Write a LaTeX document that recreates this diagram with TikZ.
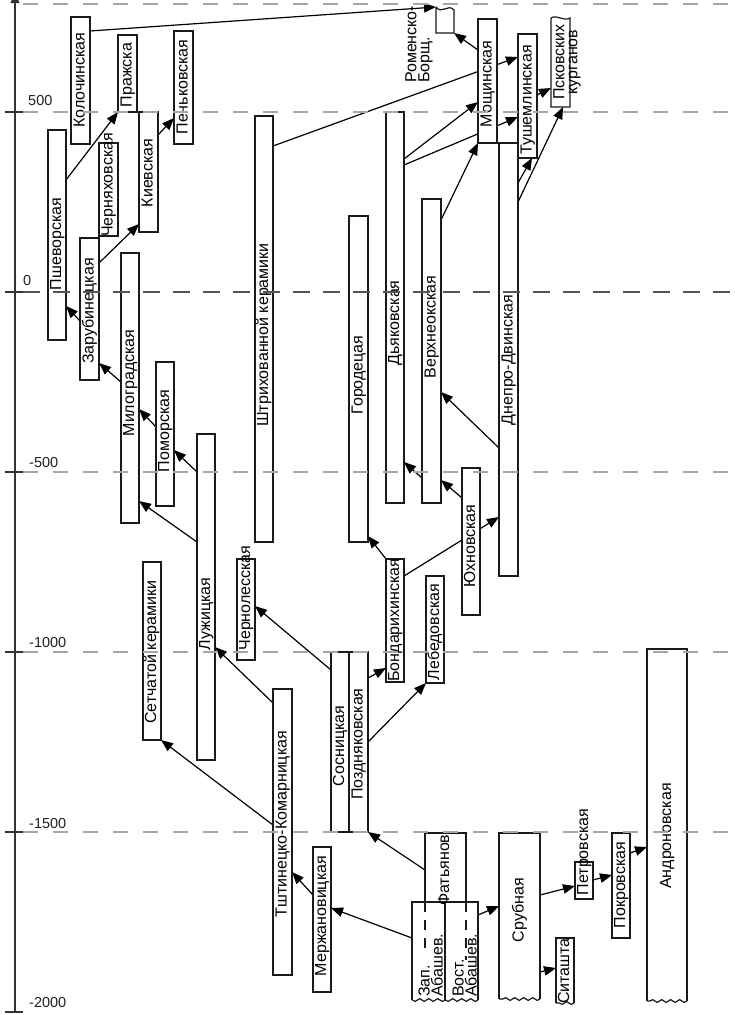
\documentclass[tikz,border=0pt]{standalone}
\usepackage{fontspec}
\setmainfont{Liberation Sans}
\usetikzlibrary{arrows.meta,decorations.pathmorphing}
\pgfdeclarelayer{bg}
\pgfdeclarelayer{fg}
\pgfsetlayers{bg,main,fg}
\definecolor{boxc}{HTML}{1A1A1A}
\definecolor{gridc}{HTML}{A6A6A6}
\definecolor{zgridc}{HTML}{555555}
\definecolor{axc}{HTML}{333333}
\definecolor{numc}{HTML}{222222}
\newcommand{\bx}[6]{\node[#6, minimum width={(#4-#2)*1pt}, minimum height={(#5-#3)*1pt}] (#1) at ({(#2+#4)/2},{(#3+#5)/2}) {};}
\newcommand{\lb}[4]{\node[lbl] (#1) at (#2,#3) {#4};}
\tikzset{
  box/.style={draw=boxc, line width=1.2pt, fill=white, inner sep=0pt, outer sep=0pt},
  wbox/.style={fill=white, inner sep=0pt, outer sep=0pt},
  edge/.style={draw=boxc, line width=1.2pt},
  wave/.style={edge, decorate, decoration={snake, amplitude=1.4pt, segment length=9pt}},
  lbl/.style={rotate=90, font=\fontsize{16}{13}\selectfont, inner sep=0pt, text height=11.5pt, text depth=3.4pt},
  ml/.style={rotate=90, font=\fontsize{16}{13}\selectfont, inner sep=0pt},
  conn/.style={draw=black, line width=1.2pt},
  arr/.style={conn, -{Triangle[length=12pt,width=9.5pt]}},
  gridln/.style={draw=gridc, line width=1.3pt, dash pattern=on 15pt off 15pt},
  zgridln/.style={draw=zgridc, line width=1.4pt, dash pattern=on 17pt off 13pt},
  axis/.style={draw=axc, line width=1.4pt},
  num/.style={font=\fontsize{14.5}{14}\selectfont, inner sep=0pt, anchor=base west, text=numc}
}
\begin{document}
\begin{tikzpicture}[x=1pt,y=-1pt]
\useasboundingbox (0,0) rectangle (734,1015);
% axis
\draw[axis, -{Triangle[length=10pt,width=9pt]}] (15,1012) -- (15,-7);
\foreach \yy in {112,292,472,652,832,1012} \draw[axis] (5,\yy) -- (23,\yy);
\node[num] (n500) at (28,105) {500};
\node[num] (n0) at (23,285) {0};
\node[num] (nm500) at (29,467) {-500};
\node[num] (nm1000) at (29,647) {-1000};
\node[num] (nm1500) at (29,828) {-1500};
\node[num] (nm2000) at (29,1007) {-2000};
% boxes
\bx{kol}{71}{17}{90}{144}{box}
\bx{pra}{118}{35}{137}{112}{box}
\bx{pen}{174}{31}{193}{144}{box}
\bx{psh}{48}{130}{66}{340}{box}
\bx{cher}{99}{143}{118}{236}{box}
\bx{kie}{139}{112}{158}{232}{box}
\bx{zar}{80}{238}{99}{380}{box}
\bx{mil}{121}{253}{139}{523}{box}
\bx{pom}{156}{362}{174}{506}{box}
\bx{luz}{197}{434}{215}{760}{box}
\bx{set}{143}{562}{161}{740}{box}
\bx{che}{237}{559}{255}{660}{box}
\bx{shtr}{255}{116}{273}{542}{box}
\bx{gor}{349}{216}{368}{542}{box}
\bx{dya}{386}{112}{404}{503}{box}
\bx{ver}{422}{199}{441}{503}{box}
\bx{mos}{478}{19}{497}{143}{box}
\bx{rom}{436}{7}{454}{33}{wbox}
\bx{tus}{518}{34}{537}{158}{box}
\bx{psk}{551}{18}{570}{107}{wbox}
\bx{dne}{499}{143}{518}{576}{box}
\bx{yuh}{462}{468}{480}{615}{box}
\bx{bon}{386}{559}{404}{682}{box}
\bx{leb}{426}{576}{444}{683}{box}
\bx{tsh}{273}{689}{292}{975}{box}
\bx{sos}{331}{652}{349}{832}{box}
\bx{poz}{349}{652}{368}{832}{box}
\bx{mer}{313}{847}{331}{992}{box}
\bx{fat}{425}{833}{466}{902}{box}
\bx{zap}{412}{902}{445}{1000}{wbox}
\bx{vos}{445}{902}{478}{1000}{wbox}
\bx{srub}{499}{833}{540}{999}{wbox}
\bx{pet}{575}{862}{593}{899}{box}
\bx{pok}{612}{833}{630}{938}{box}
\bx{andr}{647}{649}{687}{1001}{wbox}
\bx{sit}{556}{938}{574}{1003}{wbox}
% wavy outlines
\draw[edge] (rom.north west) -- (rom.south west) -- (rom.south east) -- (454,10)
  .. controls (448,3) and (442,15) .. (rom.north west);
\draw[edge] (psk.north west) -- (psk.south west) -- (psk.south east) -- (psk.north east)
  .. controls (564,22) and (557,14) .. (psk.north west);
\foreach \n in {zap,vos,srub,andr,sit}{
  \draw[edge] (\n.south west) -- (\n.north west) -- (\n.north east) -- (\n.south east);
  \draw[wave] (\n.south east) -- (\n.south west);
}
\draw[edge, dash pattern=on 10pt off 8pt] (fat.south west) -- ++(0,46);
\draw[edge, dash pattern=on 10pt off 8pt] (fat.south east) -- ++(0,58);
% labels
\lb{kol-l}{80.5}{80}{Колочинская}
\lb{pra-l}{127.5}{75}{Пражска}
\lb{pen-l}{183.5}{87}{Пеньковская}
\lb{psh-l}{57}{244}{Пшеворская}
\lb{cher-l}{108.5}{185}{Черняховская}
\lb{kie-l}{148.5}{173}{Киевская}
\lb{zar-l}{89.5}{311}{Зарубинецкая}
\lb{mil-l}{130}{383}{Милоградская}
\lb{pom-l}{165}{431}{Поморская}
\lb{luz-l}{206}{614}{Лужицкая}
\lb{set-l}{152}{652}{Сетчатой керамики}
\lb{che-l}{246}{598}{Чернолесская}
\lb{shtr-l}{264}{335}{Штрихованной керамики}
\lb{gor-l}{358.5}{375}{Городецая}
\lb{dya-l}{395}{323}{Дьяковская}
\lb{ver-l}{431.5}{327}{Верхнеокская}
\lb{mos-l}{487.5}{84}{Мощинская}
\node[ml, anchor=south west, align=left] (rom-l) at (433,83) {Роменско-\\Борщ.};
\lb{tus-l}{527.5}{100}{Тушемлинская}
\node[ml, align=center] (psk-l) at (567,62) {Псковских\\курганов};
\lb{dne-l}{508.5}{360}{Днепро-Двинская}
\lb{yuh-l}{471}{546}{Юхновская}
\lb{bon-l}{395}{620}{Бондарихинская}
\lb{leb-l}{435}{632}{Лебедовская}
\lb{tsh-l}{282.5}{824}{Тштинецко-Комарницкая}
\lb{sos-l}{340}{746}{Сосницкая}
\lb{poz-l}{358.5}{744}{Поздняковская}
\lb{mer-l}{322}{916}{Мержановицкая}
\lb{fat-l}{445}{868}{Фатьянов.}
\node[ml, anchor=south west, align=left] (zap-l) at (443,997) {Зап.\\Абашев.};
\node[ml, anchor=south west, align=left] (vos-l) at (477,997) {Вост.\\Абашев.};
\lb{srub-l}{519.5}{910}{Срубная}
\lb{pet-l}{584}{852}{Петровская}
\lb{pok-l}{621}{885}{Покровская}
\lb{andr-l}{667}{836}{Андроновская}
\lb{sit-l}{565}{971}{Ситашта}
% connectors
\begin{pgfonlayer}{bg}
\fill[white] (0,0) rectangle (734,1015);
\draw[arr] (kol.east |- 0,31) -- (rom.north west);
\draw[arr] (psh.east |- 0,180) -- (pra.south west);
\draw[arr] (zar.east |- 0,263) -- (kie.west |- 0,224);
\draw[arr] (kie.east |- 0,135) -- (pen.west |- 0,118);
\draw[arr] (zar.west |- 0,321) -- (psh.east |- 0,306);
\draw[arr] (mil.west |- 0,382) -- (zar.east |- 0,363);
\draw[arr] (pom.west |- 0,427) -- (mil.east |- 0,409);
\draw[arr] (luz.west |- 0,472) -- (pom.east |- 0,450);
\draw[arr] (luz.west |- 0,542) -- (mil.east |- 0,501);
\draw[arr] (tsh.west |- 0,703) -- (luz.east |- 0,647);
\draw[arr] (tsh.west |- 0,825) -- (set.south east);
\draw[arr] (sos.west |- 0,670) -- (che.east |- 0,606);
\draw[arr] (poz.east |- 0,678) -- (bon.west |- 0,668);
\draw[arr] (poz.east |- 0,742) -- (leb.south west);
\draw[arr] (bon.north west) -- (gor.east |- 0,536);
\draw[arr] (bon.east |- 0,576) -- (dne.west |- 0,517);
\draw[arr] (yuh.west |- 0,498) -- (ver.east |- 0,480);
\draw[arr] (ver.west |- 0,478) -- (dya.east |- 0,462);
\draw[arr] (dne.west |- 0,448) -- (ver.east |- 0,392);
\draw[arr] (ver.east |- 0,220) -- (mos.south west);
\draw[arr] (dya.east |- 0,159) -- (mos.west |- 0,102);
\draw[arr] (dya.east |- 0,165) -- (tus.west |- 0,117);
\draw[arr] (shtr.east |- 0,146) -- (tus.west |- 0,57);
\draw[arr] (mos.west |- 0,50) -- (rom.south east);
\draw[arr] (tus.east |- 0,95) -- (psk.west |- 0,88);
\draw[arr] (dne.east |- 0,183) -- (tus.south -| 532,0);
\draw[arr] (dne.east |- 0,202) -- (psk.south -| 563,0);
\draw[arr] (mer.west |- 0,895) -- (tsh.east |- 0,872);
\draw[arr] (fat.west |- 0,870) -- (poz.south east);
\draw[arr] (zap.west |- 0,938) -- (mer.east |- 0,908);
\draw[arr] (vos.east |- 0,915) -- (srub.west |- 0,906);
\draw[arr] (srub.east |- 0,895) -- (pet.west |- 0,886);
\draw[arr] (pet.east |- 0,880) -- (pok.west |- 0,875);
\draw[arr] (pok.east |- 0,853) -- (andr.west |- 0,847);
\draw[arr] (srub.east |- 0,972) -- (sit.west |- 0,968);
\end{pgfonlayer}
% grid
\begin{pgfonlayer}{fg}
\foreach \yy in {4,112,472,652,832} \draw[gridln] (23,\yy) -- (734,\yy);
\draw[zgridln] (23,292) -- (734,292);
\end{pgfonlayer}
\end{tikzpicture}
\end{document}
